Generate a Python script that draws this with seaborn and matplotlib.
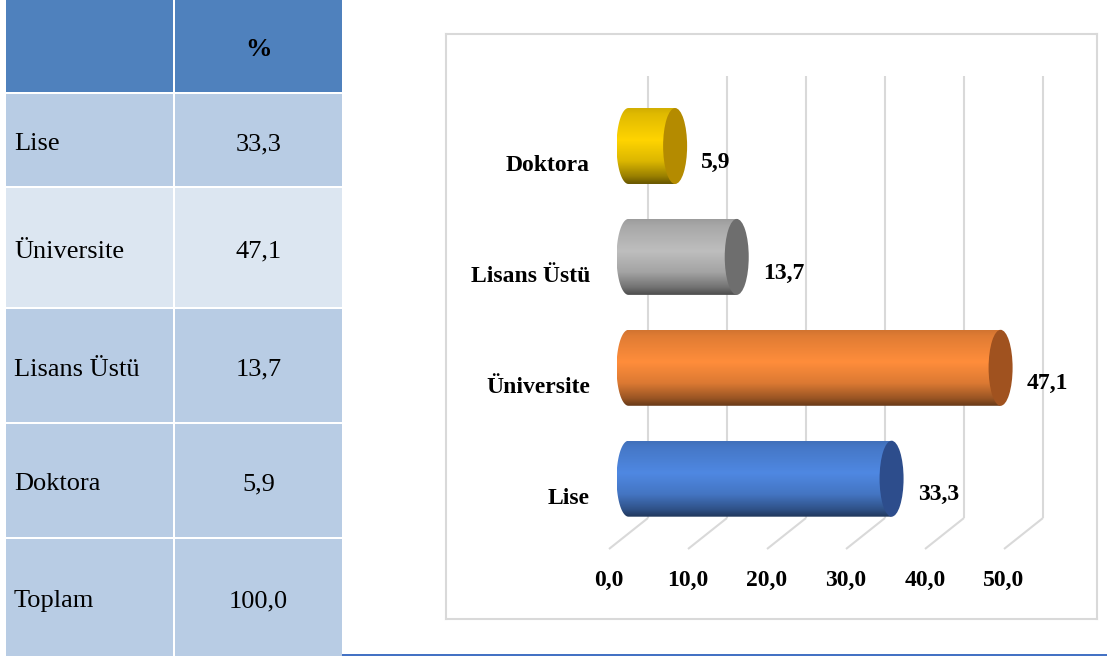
import numpy as np
import pandas as pd
import matplotlib
matplotlib.use("Agg")
import matplotlib.pyplot as plt
import seaborn as sns
from matplotlib.patches import Rectangle, Ellipse, PathPatch
from matplotlib.path import Path
from matplotlib.colors import to_rgb

# ---- data -------------------------------------------------------------
levels = ["Lise", "Üniversite", "Lisans Üstü", "Doktora"]
shares = [33.3, 47.1, 13.7, 5.9]
total_label = "Toplam"
total_share = 100.0
header = ["", "%"]
tick_values = [0, 10, 20, 30, 40, 50]

body_colors = {"Lise": "#4F88E2", "Üniversite": "#FF8D3B",
               "Lisans Üstü": "#BEBEBE", "Doktora": "#FFD400"}
cap_colors = {"Lise": "#2D4D8C", "Üniversite": "#A0521F",
              "Lisans Üstü": "#6E6E6E", "Doktora": "#B48B00"}


def fmt(v):
    return f"{v:.1f}".replace(".", ",")


sns.set_theme(style="white")
plt.rcParams["font.family"] = ["Liberation Serif", "DejaVu Serif"]

W, H = 1107, 656
fig = plt.figure(figsize=(W / 100, H / 100), dpi=100)
fig.patch.set_facecolor("white")

# ---- table on the left (pixel-space layer) ----------------------------
tab = fig.add_axes([0, 0, 1, 1])
tab.set_xlim(0, W)
tab.set_ylim(H, 0)
tab.axis("off")

col_edges = [(6, 173), (175, 342)]
row_edges = [(-2, 92), (94, 186), (188, 307), (309, 422), (424, 537), (539, 658)]
row_fill = ["#4F81BD", "#B8CCE4", "#DCE6F1", "#B8CCE4", "#B8CCE4", "#B8CCE4"]
rows = [header] + [[c, fmt(v)] for c, v in zip(levels, shares)] + \
       [[total_label, fmt(total_share)]]

for r, ((top, bot), fill, cells) in enumerate(zip(row_edges, row_fill, rows)):
    for c, ((lft, rgt), text) in enumerate(zip(col_edges, cells)):
        tab.add_patch(Rectangle((lft, top), rgt - lft, bot - top,
                                facecolor=fill, edgecolor="none"))
        ymid = (max(top, 0) + min(bot, H)) / 2 + 4
        if c == 0:
            tab.text(lft + 8, ymid, text, ha="left", va="center",
                     fontsize=19, color="black")
        else:
            tab.text((lft + rgt) / 2, ymid, text, ha="center", va="center",
                     fontsize=19, color="black",
                     fontweight="bold" if r == 0 else "normal")

# blue rule along the bottom
tab.add_patch(Rectangle((342, 654), W - 342, 3, facecolor="#4472C4",
                        edgecolor="none"))

# ---- cylinder bar chart -------------------------------------------------
PX0, PXU = 628.5, 7.9          # pixel of value 0 and pixels per unit
ROW0, ROWSTEP = 146.0, 110.9   # pixel centre of first row and row spacing
BL, BT, BR, BB = 446, 34, 1097, 619

ax = fig.add_axes([BL / W, 1 - BB / H, (BR - BL) / W, (BB - BT) / H])

chart_order = levels[::-1]
df = pd.DataFrame({"level": levels, "share": shares})
sns.barplot(data=df, x="share", y="level", order=chart_order,
            hue="level", hue_order=chart_order, palette=body_colors,
            width=0.685, orient="h", legend=False, saturation=1, ax=ax)

dx = 19.5 / PXU              # half depth of the 3D floor in value units
grid_top = (76 - ROW0) / ROWSTEP
grid_back = (518 - ROW0) / ROWSTEP
grid_front = (549 - ROW0) / ROWSTEP
tick_y = (580 - ROW0) / ROWSTEP
grid_kw = dict(color="#D9D9D9", lw=1.5, zorder=0.5, solid_capstyle="butt")
for v in tick_values:
    ax.plot([v + dx, v + dx], [grid_top, grid_back], **grid_kw)
    ax.plot([v + dx, v - dx], [grid_back, grid_front], **grid_kw)
    ax.text(v - dx, tick_y, fmt(v), ha="center", va="center",
            fontsize=17, fontweight="bold", color="black")


def shade(base, n=256):
    t = np.linspace(0, 1, n)
    stops_t = [0.0, 0.08, 0.42, 0.70, 0.90, 1.0]
    stops_f = [0.82, 0.88, 1.0, 0.86, 0.60, 0.40]
    f = np.interp(t, stops_t, stops_f)
    rgb = np.array(to_rgb(base))
    return np.clip(rgb[None, :] * f[:, None], 0, 1)[:, None, :]


rx = 12.0 / PXU  # horizontal radius of the cylinder ends
value_of = dict(zip(levels, shares))

for patch in list(ax.patches):
    x0, y0 = patch.get_x(), patch.get_y()
    w, h = patch.get_width(), patch.get_height()
    yc = y0 + h / 2
    name = chart_order[int(round(yc))]
    patch.set_visible(False)

    # body outline: left half-ellipse joined to the bar rectangle
    ang = np.linspace(np.pi / 2, 3 * np.pi / 2, 60)
    arc = np.column_stack([x0 + rx * np.cos(ang), yc - (h / 2) * np.sin(ang)])
    tail = np.array([[x0 + w, y0 + h], [x0 + w, y0]])
    verts = np.vstack([arc, tail, arc[:1]])
    body = PathPatch(Path(verts, closed=True), transform=ax.transData,
                     facecolor="none", edgecolor="none")
    ax.add_patch(body)
    img = ax.imshow(shade(body_colors[name]), aspect="auto",
                    extent=(x0 - rx, x0 + w, y0 + h, y0), origin="upper",
                    interpolation="bilinear", zorder=2)
    img.set_clip_path(body)

    # end face of the cylinder
    ax.add_patch(Ellipse((x0 + w, yc), 2 * rx, h, facecolor=cap_colors[name],
                         edgecolor="none", zorder=3))

    ax.text(x0 + w + 3.3, yc + 0.145, fmt(value_of[name]), ha="left",
            va="center", fontsize=17, fontweight="bold", color="black",
            zorder=4)
    ax.text((590 - PX0) / PXU, yc + 0.18, name, ha="right", va="center",
            fontsize=17, fontweight="bold", color="black", zorder=4)

ax.set_xlim((BL - PX0) / PXU, (BR - PX0) / PXU)
ax.set_ylim((BB - ROW0) / ROWSTEP, (BT - ROW0) / ROWSTEP)
ax.set_xticks([])
ax.set_yticks([])
ax.set_xlabel("")
ax.set_ylabel("")
ax.set_facecolor("white")
for sp in ax.spines.values():
    sp.set_visible(True)
    sp.set_color("#D9D9D9")
    sp.set_linewidth(1.5)

fig.savefig("out.png", dpi=100, facecolor="white")
